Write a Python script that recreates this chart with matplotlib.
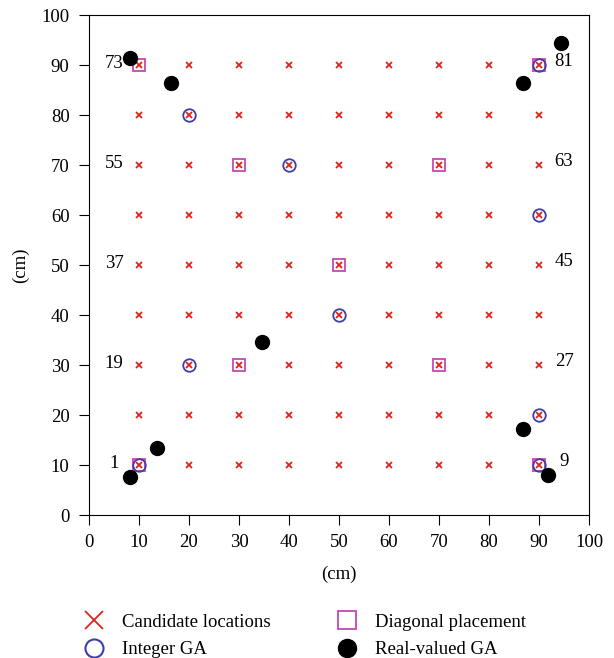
import matplotlib.pyplot as plt
from matplotlib.lines import Line2D
import numpy as np

plt.rcParams['font.family'] = ['Liberation Serif', 'DejaVu Serif']

# candidate grid 9x9, 10..90 cm
grid = [10, 20, 30, 40, 50, 60, 70, 80, 90]

diag_x = [10, 30, 50, 70, 90, 10, 30, 70, 90]
diag_y = [10, 30, 50, 70, 90, 90, 70, 30, 10]

int_x = [10, 20, 50, 90, 90, 90, 40, 20, 90]
int_y = [10, 30, 40, 10, 20, 60, 70, 80, 90]

real_x = [8.1, 13.5, 34.6, 86.8, 91.8, 8.2, 16.4, 86.8, 94.4]
real_y = [7.7, 13.5, 34.7, 17.2, 8.0, 91.4, 86.4, 86.4, 94.4]

idx_left = [1, 19, 37, 55, 73]
idx_right = [9, 27, 45, 63, 81]
idx_rows = [10, 30, 50, 70, 90]

red = '#e2231a'
blue = '#3d3fa8'
mag = '#c448b4'

fig = plt.figure(figsize=(6.14, 6.58), dpi=100)
ax = fig.add_axes([89/614, 143/658, 500/614, 500/658])

gx, gy = np.meshgrid(grid, grid)
ax.plot(gx.ravel(), gy.ravel(), 'x', color=red, ms=4, mew=1.3, ls='none')
ax.plot(diag_x, diag_y, 's', mfc='none', mec=mag, ms=9, mew=1.3, ls='none')
ax.plot(int_x, int_y, 'o', mfc='none', mec=blue, ms=9, mew=1.3, ls='none')
ax.plot(real_x, real_y, 'o', color='black', ms=10, ls='none')

for n, y in zip(idx_left, idx_rows):
    ax.text(5, y + 0.4, str(n), ha='center', va='center', fontsize=13.5)
for n, y in zip(idx_right, idx_rows):
    ax.text(95, y + 0.6, str(n), ha='center', va='center', fontsize=13.5)

ax.set_xlim(0, 100)
ax.set_ylim(0, 100)
ax.set_xticks(range(0, 101, 10))
ax.set_yticks(range(0, 101, 10))
ax.tick_params(direction='out', length=7, pad=7, labelsize=13.5, top=False, right=False)
ax.set_xlabel('(cm)', fontsize=13.5, labelpad=10)
ax.set_ylabel('(cm)', fontsize=13.5, labelpad=9)

handles = [
    Line2D([], [], marker='x', color=red, ms=13, mew=1.3, ls='none'),
    Line2D([], [], marker='o', mfc='none', mec=blue, ms=13, mew=1.5, ls='none'),
    Line2D([], [], marker='s', mfc='none', mec=mag, ms=13, mew=1.3, ls='none'),
    Line2D([], [], marker='o', color='black', ms=13, ls='none'),
]
labels = ['Candidate locations', 'Integer GA', 'Diagonal placement', 'Real-valued GA']
fig.legend(handles, labels, ncol=2, frameon=False, fontsize=13.5,
           loc='lower left', bbox_to_anchor=(58/614, -0.026),
           handletextpad=0.5, columnspacing=3.1, labelspacing=0.55)

fig.savefig('out.png')
